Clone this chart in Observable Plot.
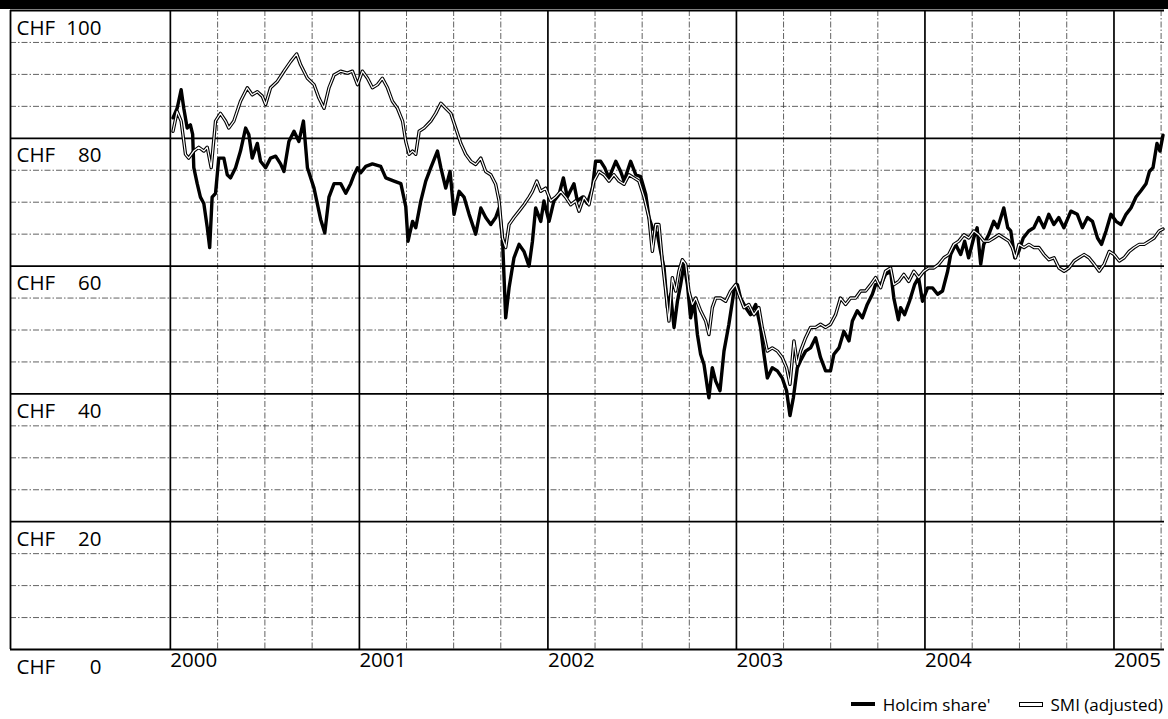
<!DOCTYPE html>
<html>
<head>
<meta charset="utf-8">
<script src="https://cdn.jsdelivr.net/npm/d3@7"></script>
<script src="https://cdn.jsdelivr.net/npm/@observablehq/plot@0.6"></script>
<style>
  body { margin: 0; background: #fff; font-family: "Open Sans", "Noto Sans", sans-serif; color: #000; }
  #title { position: relative; height: 9px; background: #000; overflow: hidden; }
  #title span { position: absolute; left: 0; right: 0; top: -20px; line-height: 18px; text-align: center; color: #fff; font-size: 18px; }
  #legend { height: 30px; display: flex; justify-content: flex-end; align-items: center; padding-right: 5px; font-size: 17px; }
  #legend .item { display: flex; align-items: center; margin-left: 28px; }
  #legend .sw-solid { width: 24px; height: 4px; background: #000; margin-right: 8px; }
  #legend .sw-outline { width: 22px; height: 3px; background: #fff; border: 1.2px solid #000; margin-right: 8px; }
</style>
</head>
<body>
<div id="title"><span>Share price (CHF)</span></div>
<div id="chart"></div>
<div id="legend">
  <div class="item"><div class="sw-solid"></div><span>Holcim share'</span></div>
  <div class="item"><div class="sw-outline"></div><span>SMI (adjusted)</span></div>
</div>
<script>
// Price levels (CHF): solid rules every 20, dashed rules in between
const majorLevels = [0, 20, 40, 60, 80, 100];
const minorLevels = [5, 10, 15, 25, 30, 35, 45, 50, 55, 65, 70, 75, 85, 90, 95];
const yearLabels = [2000, 2001, 2002, 2003, 2004, 2005];
const quarterMarks = [2000.25, 2000.5, 2000.75, 2001.25, 2001.5, 2001.75, 2002.25, 2002.5, 2002.75,
  2003.25, 2003.5, 2003.75, 2004.25, 2004.5, 2004.75, 2005.25];
// left edge of the label column and right edge of the time range (decimal years)
const rangeStart = 1999.152;
const rangeEnd = 2005.268;

// Holcim registered share, CHF (decimal year, price)
const holcimYears = [
  2000.014, 2000.036, 2000.057, 2000.071, 2000.089, 2000.106, 2000.118, 2000.124, 2000.142, 2000.159,
  2000.177, 2000.195, 2000.208, 2000.221, 2000.239, 2000.256, 2000.283, 2000.301, 2000.318, 2000.345,
  2000.371, 2000.398, 2000.415, 2000.433, 2000.460, 2000.477, 2000.504, 2000.530, 2000.557, 2000.583,
  2000.601, 2000.627, 2000.654, 2000.680, 2000.704, 2000.725, 2000.760, 2000.795, 2000.817, 2000.839,
  2000.866, 2000.901, 2000.928, 2000.954, 2000.972, 2000.990,
  2001.007, 2001.034, 2001.069, 2001.113, 2001.140, 2001.184, 2001.220, 2001.246, 2001.258, 2001.282,
  2001.299, 2001.326, 2001.352, 2001.379, 2001.414, 2001.432, 2001.458, 2001.481, 2001.502, 2001.529,
  2001.555, 2001.582, 2001.617, 2001.644, 2001.670, 2001.697, 2001.723, 2001.741, 2001.759, 2001.776,
  2001.794, 2001.820, 2001.847, 2001.873, 2001.900, 2001.918, 2001.935, 2001.962, 2001.979,
  2002.006, 2002.032, 2002.059, 2002.082, 2002.103, 2002.138, 2002.156, 2002.183, 2002.209, 2002.236,
  2002.253, 2002.280, 2002.301, 2002.324, 2002.360, 2002.386, 2002.404, 2002.439, 2002.466, 2002.492,
  2002.519, 2002.536, 2002.554, 2002.581, 2002.598, 2002.616, 2002.634, 2002.651, 2002.669, 2002.687,
  2002.704, 2002.722, 2002.740, 2002.757, 2002.775, 2002.793, 2002.810, 2002.828, 2002.854, 2002.872,
  2002.890, 2002.913, 2002.934, 2002.960, 2002.987,
  2003.005, 2003.022, 2003.049, 2003.075, 2003.102, 2003.128, 2003.146, 2003.164, 2003.190, 2003.217,
  2003.243, 2003.266, 2003.284, 2003.302, 2003.323, 2003.340, 2003.367, 2003.393, 2003.420, 2003.446,
  2003.473, 2003.499, 2003.517, 2003.544, 2003.570, 2003.597, 2003.615, 2003.641, 2003.668, 2003.694,
  2003.721, 2003.738, 2003.765, 2003.791, 2003.818, 2003.835, 2003.859, 2003.871, 2003.892, 2003.918,
  2003.945, 2003.966, 2003.987,
  2004.014, 2004.040, 2004.067, 2004.093, 2004.120, 2004.136, 2004.162, 2004.189, 2004.210, 2004.231,
  2004.258, 2004.276, 2004.295, 2004.311, 2004.337, 2004.364, 2004.385, 2004.417, 2004.438, 2004.454,
  2004.475, 2004.496, 2004.520, 2004.549, 2004.576, 2004.602, 2004.629, 2004.655, 2004.682, 2004.708,
  2004.735, 2004.772, 2004.806, 2004.833, 2004.860, 2004.886, 2004.913, 2004.934, 2004.958, 2004.984,
  2005.011, 2005.037, 2005.064, 2005.090, 2005.117, 2005.143, 2005.170, 2005.188, 2005.207, 2005.228,
  2005.244, 2005.260
];
const holcimValues = [
  83.2, 84.7, 87.6, 84.7, 81.6, 82.1, 80.6, 75.4, 72.9, 70.8,
  69.8, 66.1, 62.9, 70.8, 71.4, 76.9, 76.9, 74.3, 73.8, 75.4,
  78.0, 81.6, 80.6, 76.9, 79.2, 76.4, 75.4, 76.9, 77.2, 76.0,
  74.8, 79.5, 81.1, 79.5, 82.7, 75.4, 72.2, 67.3, 65.2, 70.8,
  72.9, 72.9, 71.4, 72.9, 74.3, 75.4,
  74.6, 75.6, 76.0, 75.6, 73.8, 73.3, 72.9, 69.3, 63.9, 67.0,
  66.0, 70.2, 73.3, 75.4, 78.0, 75.4, 72.2, 74.8, 68.1, 71.7,
  70.8, 68.1, 65.0, 69.1, 67.6, 66.5, 67.6, 69.1, 64.4, 51.9,
  56.6, 61.3, 63.4, 62.3, 60.0, 63.9, 69.1, 67.0, 70.2,
  67.0, 70.2, 71.2, 73.8, 70.8, 72.9, 70.2, 70.8, 69.8, 72.2,
  76.4, 76.4, 75.4, 73.8, 76.4, 74.8, 73.3, 76.4, 74.3, 74.0,
  71.2, 67.6, 66.0, 65.0, 62.3, 59.7, 53.5, 55.6, 50.4, 54.5,
  57.1, 60.3, 57.1, 51.9, 54.5, 49.3, 46.2, 44.6, 39.4, 44.1,
  42.0, 40.5, 46.7, 50.9, 56.1,
  57.1, 55.0, 53.5, 52.4, 54.0, 50.4, 46.2, 42.5, 44.1, 43.6,
  42.5, 40.5, 36.6, 39.4, 44.1, 45.2, 46.7, 47.2, 48.8, 45.7,
  43.6, 43.6, 46.2, 47.2, 49.8, 48.3, 51.4, 53.0, 51.9, 54.0,
  55.6, 57.1, 57.0, 58.7, 59.2, 55.0, 51.6, 53.5, 52.4, 54.5,
  57.1, 58.2, 54.5,
  56.6, 56.6, 55.6, 56.1, 59.2, 61.8, 63.4, 61.8, 63.9, 61.3,
  64.4, 66.0, 60.3, 63.4, 64.9, 67.0, 66.0, 69.1, 66.0, 65.5,
  61.3, 62.3, 64.4, 65.5, 66.0, 67.6, 66.0, 68.1, 66.5, 67.6,
  66.0, 68.6, 68.1, 66.0, 67.6, 67.0, 64.4, 63.4, 65.5, 68.1,
  67.0, 66.5, 68.1, 69.1, 70.8, 71.8, 72.9, 74.8, 75.4, 79.2,
  78.0, 80.5
];

// Swiss Market Index, rebased to the share price (decimal year, level)
const smiYears = [
  2000.014, 2000.036, 2000.057, 2000.080, 2000.097, 2000.124, 2000.150, 2000.177, 2000.195, 2000.216,
  2000.239, 2000.265, 2000.292, 2000.309, 2000.336, 2000.371, 2000.407, 2000.433, 2000.460, 2000.486,
  2000.504, 2000.530, 2000.566, 2000.601, 2000.636, 2000.668, 2000.689, 2000.725, 2000.760, 2000.786,
  2000.813, 2000.839, 2000.866, 2000.901, 2000.937, 2000.963, 2000.990,
  2001.016, 2001.043, 2001.069, 2001.096, 2001.122, 2001.149, 2001.175, 2001.202, 2001.229, 2001.246,
  2001.264, 2001.282, 2001.299, 2001.317, 2001.343, 2001.379, 2001.405, 2001.432, 2001.458, 2001.485,
  2001.511, 2001.538, 2001.564, 2001.591, 2001.617, 2001.644, 2001.670, 2001.697, 2001.723, 2001.741,
  2001.759, 2001.776, 2001.794, 2001.820, 2001.847, 2001.873, 2001.900, 2001.918, 2001.941, 2001.962,
  2001.988,
  2002.015, 2002.041, 2002.068, 2002.094, 2002.121, 2002.147, 2002.165, 2002.191, 2002.218, 2002.244,
  2002.271, 2002.297, 2002.324, 2002.350, 2002.377, 2002.404, 2002.430, 2002.457, 2002.483, 2002.510,
  2002.536, 2002.554, 2002.572, 2002.589, 2002.607, 2002.625, 2002.642, 2002.660, 2002.678, 2002.695,
  2002.713, 2002.731, 2002.748, 2002.766, 2002.784, 2002.810, 2002.837, 2002.854, 2002.872, 2002.890,
  2002.916, 2002.943, 2002.969, 2002.996,
  2003.013, 2003.040, 2003.066, 2003.093, 2003.119, 2003.137, 2003.164, 2003.190, 2003.217, 2003.243,
  2003.266, 2003.284, 2003.305, 2003.323, 2003.340, 2003.367, 2003.393, 2003.420, 2003.446, 2003.473,
  2003.499, 2003.526, 2003.552, 2003.579, 2003.605, 2003.632, 2003.659, 2003.685, 2003.712, 2003.738,
  2003.765, 2003.791, 2003.818, 2003.835, 2003.861, 2003.888, 2003.914, 2003.941, 2003.967, 2003.994,
  2004.020, 2004.047, 2004.073, 2004.100, 2004.126, 2004.153, 2004.179, 2004.206, 2004.232, 2004.259,
  2004.285, 2004.312, 2004.338, 2004.365, 2004.391, 2004.418, 2004.444, 2004.462, 2004.479, 2004.497,
  2004.524, 2004.550, 2004.577, 2004.603, 2004.630, 2004.656, 2004.683, 2004.709, 2004.736, 2004.762,
  2004.789, 2004.815, 2004.842, 2004.868, 2004.895, 2004.922, 2004.948, 2004.975,
  2005.001, 2005.028, 2005.054, 2005.081, 2005.107, 2005.134, 2005.160, 2005.187, 2005.213, 2005.240,
  2005.260
];
const smiValues = [
  81.1, 84.2, 82.7, 77.5, 76.9, 78.0, 78.6, 78.0, 78.6, 75.4,
  82.7, 83.9, 82.7, 81.6, 82.7, 85.8, 87.9, 86.8, 87.3, 86.6,
  85.3, 87.9, 88.9, 90.5, 92.0, 93.2, 91.5, 89.4, 88.4, 86.3,
  84.7, 87.9, 89.9, 90.5, 90.2, 90.5, 88.4,
  90.5, 89.4, 87.9, 88.4, 89.4, 87.9, 85.8, 84.7, 82.7, 79.5,
  77.5, 78.0, 77.5, 81.1, 81.6, 82.7, 83.9, 85.5, 84.7, 83.9,
  81.6, 79.2, 77.5, 76.4, 75.9, 76.9, 74.8, 74.3, 72.8, 70.2,
  64.4, 62.9, 66.5, 67.6, 68.6, 69.6, 70.8, 71.7, 73.3, 71.7,
  72.2,
  70.2, 70.8, 71.7, 70.8, 69.6, 70.2, 68.6, 70.8, 69.6, 73.3,
  74.8, 74.3, 73.3, 74.3, 73.3, 72.8, 74.3, 73.8, 73.3, 70.8,
  67.6, 62.3, 66.5, 66.5, 60.8, 56.1, 51.4, 58.2, 56.1, 59.2,
  61.0, 60.3, 56.1, 54.0, 55.0, 53.0, 51.4, 49.3, 53.5, 55.0,
  55.0, 54.5, 56.1, 57.1,
  55.6, 53.5, 54.0, 52.4, 53.5, 50.4, 46.7, 47.2, 46.7, 45.7,
  44.1, 41.5, 48.3, 44.6, 46.7, 48.8, 50.4, 50.4, 50.9, 50.4,
  50.9, 52.4, 55.0, 54.0, 55.0, 55.0, 56.1, 56.1, 57.1, 58.2,
  56.6, 59.2, 59.7, 57.1, 57.6, 58.7, 57.6, 59.2, 58.2, 59.2,
  59.7, 59.7, 60.3, 61.3, 61.8, 63.4, 63.9, 64.9, 64.4, 65.5,
  64.9, 63.9, 63.9, 64.4, 64.9, 64.4, 63.9, 62.9, 61.3, 63.4,
  62.9, 63.4, 62.9, 62.9, 61.8, 61.0, 61.3, 59.7, 59.2, 59.7,
  60.8, 61.3, 61.8, 61.3, 60.3, 59.2, 60.3, 62.3,
  61.8, 60.8, 61.3, 62.3, 62.9, 63.4, 63.4, 63.9, 64.4, 65.5,
  65.8
];

// decimal year -> UTC date
function toDate(t) {
  const y = Math.floor(t);
  const a = Date.UTC(y, 0, 1), b = Date.UTC(y + 1, 0, 1);
  return new Date(a + (t - y) * (b - a));
}

const holcim = holcimYears.map((t, i) => ({date: toDate(t), value: holcimValues[i]}));
const smi = smiYears.map((t, i) => ({date: toDate(t), value: smiValues[i]}));
const yearDates = yearLabels.map(toDate);
const quarterDates = quarterMarks.map(toDate);

const dashed = {stroke: "#3a3a3a", strokeWidth: 0.8, strokeDasharray: "6,2,1.5,2"};

const chart = Plot.plot({
  width: 1168,
  height: 680,
  marginTop: 1,
  marginBottom: 40,
  marginLeft: 10,
  marginRight: 4,
  x: {type: "utc", domain: [toDate(rangeStart), toDate(rangeEnd)], axis: null},
  y: {domain: [0, 100], axis: null},
  style: {fontFamily: "'Open Sans', 'Noto Sans', sans-serif", fontSize: "20.5px", background: "#fff", color: "#000", overflow: "visible"},
  marks: [
    // grid
    Plot.ruleY(minorLevels, dashed),
    Plot.ruleX(quarterDates, dashed),
    Plot.ruleY(majorLevels, {stroke: "#000", strokeWidth: 1.8}),
    Plot.ruleX(yearDates, {stroke: "#000", strokeWidth: 1.7}),
    Plot.ruleX([toDate(rangeStart)], {stroke: "#000", strokeWidth: 1.8}),
    // series
    Plot.line(holcim, {x: "date", y: "value", stroke: "#000", strokeWidth: 3.4, strokeLinejoin: "round"}),
    Plot.line(smi, {x: "date", y: "value", stroke: "#000", strokeWidth: 3.4, strokeLinejoin: "round"}),
    Plot.line(smi, {x: "date", y: "value", stroke: "#fff", strokeWidth: 1.2, strokeLinejoin: "round"}),
    // level labels inside the left column
    Plot.text(majorLevels, {y: d => d, frameAnchor: "left", dx: 6, dy: 17.5, text: () => "CHF", textAnchor: "start", fill: "#000"}),
    Plot.text(majorLevels, {y: d => d, frameAnchor: "left", dx: 91, dy: 17.5, text: d => String(d), textAnchor: "end", fill: "#000"}),
    // year labels under the time axis
    Plot.text(yearLabels, {x: d => toDate(d), frameAnchor: "bottom", dy: 17.5, text: d => String(d), textAnchor: "start", fill: "#000"})
  ]
});
document.getElementById("chart").appendChild(chart);
</script>
</body>
</html>
